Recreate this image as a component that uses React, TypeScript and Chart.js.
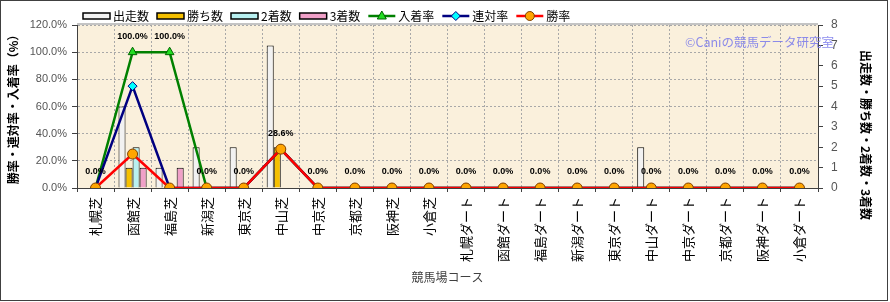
import React, { useEffect, useRef } from 'react';
import { Chart, registerables } from 'chart.js';

Chart.register(...registerables);

const categories = [
  '札幌芝', '函館芝', '福島芝', '新潟芝', '東京芝', '中山芝', '中京芝', '京都芝', '阪神芝', '小倉芝',
  '札幌ダート', '函館ダート', '福島ダート', '新潟ダート', '東京ダート', '中山ダート', '中京ダート', '京都ダート', '阪神ダート', '小倉ダート',
];
const starts = [0, 4, 1, 2, 2, 7, 0, 0, 0, 0, 0, 0, 0, 0, 0, 2, 0, 0, 0, 0];
const wins = [0, 1, 0, 0, 0, 2, 0, 0, 0, 0, 0, 0, 0, 0, 0, 0, 0, 0, 0, 0];
const seconds = [0, 2, 0, 0, 0, 0, 0, 0, 0, 0, 0, 0, 0, 0, 0, 0, 0, 0, 0, 0];
const thirds = [0, 1, 1, 0, 0, 0, 0, 0, 0, 0, 0, 0, 0, 0, 0, 0, 0, 0, 0, 0];
const placeRate = [0, 100, 100, 0, 0, 28.6, 0, 0, 0, 0, 0, 0, 0, 0, 0, 0, 0, 0, 0, 0];
const quinellaRate = [0, 75, 0, 0, 0, 28.6, 0, 0, 0, 0, 0, 0, 0, 0, 0, 0, 0, 0, 0, 0];
const winRate = [0, 25, 0, 0, 0, 28.6, 0, 0, 0, 0, 0, 0, 0, 0, 0, 0, 0, 0, 0, 0];

const leftTitle = '勝率・連対率・入着率（%）';
const rightTitle = '出走数・勝ち数・2着数・3着数';
const xTitle = '競馬場コース';
const watermark = '©Caniの競馬データ研究室';

const JP = '"Noto Sans CJK JP", "Noto Sans", sans-serif';
const NUM = '"Liberation Sans", Arial, sans-serif';

type Legend = { label: string; kind: 'bar' | 'line'; fill: string; stroke: string; marker?: string; mfill?: string; mstroke?: string };

const legendItems: Legend[] = [
  { label: '出走数', kind: 'bar', fill: '#F2F2F2', stroke: '#000' },
  { label: '勝ち数', kind: 'bar', fill: '#F5C000', stroke: '#000' },
  { label: '2着数', kind: 'bar', fill: '#B8F0F0', stroke: '#000' },
  { label: '3着数', kind: 'bar', fill: '#F0A0C8', stroke: '#000' },
  { label: '入着率', kind: 'line', fill: '', stroke: '#008000', marker: 'triangle', mfill: '#22DD22', mstroke: '#006400' },
  { label: '連対率', kind: 'line', fill: '', stroke: '#000080', marker: 'diamond', mfill: '#00FFFF', mstroke: '#000080' },
  { label: '勝率', kind: 'line', fill: '', stroke: '#FF0000', marker: 'circle', mfill: '#FFA500', mstroke: '#804000' },
];

function drawMarker(ctx: CanvasRenderingContext2D, kind: string, cx: number, cy: number, fill: string, stroke: string) {
  ctx.beginPath();
  if (kind === 'triangle') {
    const r = 5;
    ctx.moveTo(cx, cy - r);
    ctx.lineTo(cx + r * 0.9, cy + r * 0.6);
    ctx.lineTo(cx - r * 0.9, cy + r * 0.6);
    ctx.closePath();
  } else if (kind === 'diamond') {
    const r = 4.5;
    ctx.moveTo(cx, cy - r);
    ctx.lineTo(cx + r, cy);
    ctx.lineTo(cx, cy + r);
    ctx.lineTo(cx - r, cy);
    ctx.closePath();
  } else {
    ctx.arc(cx, cy, 4.5, 0, Math.PI * 2);
  }
  ctx.fillStyle = fill;
  ctx.fill();
  ctx.lineWidth = 1;
  ctx.strokeStyle = stroke;
  ctx.stroke();
}

const decor = {
  id: 'decor',
  beforeDraw(chart: any) {
    const { ctx, chartArea: a } = chart;
    ctx.save();
    ctx.fillStyle = '#FFFFFF';
    ctx.fillRect(0, 0, chart.width, chart.height);
    ctx.fillStyle = '#FAF0DC';
    ctx.fillRect(a.left, a.top, a.right - a.left, a.bottom - a.top);
    ctx.restore();
  },
  afterDatasetsDraw(chart: any) {
    const { ctx } = chart;
    const meta = chart.getDatasetMeta(4);
    ctx.save();
    ctx.font = `bold 9px ${NUM}`;
    ctx.fillStyle = '#000';
    ctx.textAlign = 'center';
    ctx.textBaseline = 'middle';
    meta.data.forEach((pt: any, i: number) => {
      ctx.fillText(placeRate[i].toFixed(1) + '%', pt.x, pt.y - 16);
    });
    ctx.restore();
  },
  afterDraw(chart: any) {
    const { ctx, chartArea: a } = chart;
    ctx.save();
    ctx.strokeStyle = '#C4C4C4';
    ctx.lineWidth = 2;
    ctx.beginPath();
    ctx.moveTo(a.left, a.top - 1);
    ctx.lineTo(a.right, a.top - 1);
    ctx.stroke();

    ctx.font = `12.5px ${JP}`;
    ctx.fillStyle = 'rgba(120,120,235,0.85)';
    ctx.textAlign = 'left';
    ctx.textBaseline = 'middle';
    ctx.fillText(watermark, 685, 42);

    ctx.fillStyle = '#000';
    ctx.font = `bold 12px ${JP}`;
    ctx.textAlign = 'center';
    ctx.save();
    ctx.translate(13, (a.top + a.bottom) / 2);
    ctx.rotate(-Math.PI / 2);
    ctx.fillText(leftTitle, 0, 0);
    ctx.restore();

    ctx.save();
    ctx.translate(866, 135);
    ctx.rotate(Math.PI / 2);
    ctx.fillText(rightTitle, 0, 0);
    ctx.restore();

    ctx.font = `12px ${JP}`;
    ctx.fillStyle = '#404040';
    ctx.fillText(xTitle, (a.left + a.right) / 2, 277);

    ctx.font = `12px ${JP}`;
    let x = 83;
    const cy = 16;
    legendItems.forEach((it) => {
      if (it.kind === 'bar') {
        ctx.fillStyle = it.fill;
        ctx.fillRect(x, cy - 3, 27, 6);
        ctx.strokeStyle = it.stroke;
        ctx.lineWidth = 1.5;
        ctx.strokeRect(x, cy - 3, 27, 6);
      } else {
        ctx.strokeStyle = it.stroke;
        ctx.lineWidth = 2.5;
        ctx.beginPath();
        ctx.moveTo(x, cy);
        ctx.lineTo(x + 27, cy);
        ctx.stroke();
        drawMarker(ctx, it.marker!, x + 13.5, cy, it.mfill!, it.mstroke!);
      }
      ctx.fillStyle = '#000';
      ctx.textAlign = 'left';
      ctx.textBaseline = 'middle';
      ctx.fillText(it.label, x + 30, cy);
      x += 30 + ctx.measureText(it.label).width + 8;
    });

    ctx.strokeStyle = '#404040';
    ctx.lineWidth = 1;
    ctx.strokeRect(0.5, 0.5, 887, 300);
    ctx.restore();
  },
};

export default function App() {
  const ref = useRef<HTMLCanvasElement>(null);
  useEffect(() => {
    document.body.style.margin = '0';
    const canvas = ref.current!;
    const lineDs = (label: string, data: number[], color: string, style: string, radius: number, fill: string, stroke: string, order: number) => ({
      type: 'line' as const,
      label,
      data,
      yAxisID: 'y',
      borderColor: color,
      borderWidth: 2.5,
      pointStyle: style,
      pointRadius: radius,
      pointBackgroundColor: fill,
      pointBorderColor: stroke,
      pointBorderWidth: 1,
      tension: 0,
      order,
    });
    const barDs = (label: string, data: number[], fill: string) => ({
      type: 'bar' as const,
      label,
      data,
      yAxisID: 'y2',
      backgroundColor: fill,
      borderColor: '#000',
      borderWidth: 1,
      categoryPercentage: 0.76,
      barPercentage: 1,
      order: 10,
    });
    const chart = new Chart(canvas, {
      type: 'bar',
      data: {
        labels: categories,
        datasets: [
          barDs('出走数', starts, '#F2F2F2'),
          barDs('勝ち数', wins, '#F5C000'),
          barDs('2着数', seconds, '#B8F0F0'),
          barDs('3着数', thirds, '#F0A0C8'),
          lineDs('入着率', placeRate, '#008000', 'triangle', 5, '#22DD22', '#006400', 3),
          lineDs('連対率', quinellaRate, '#000080', 'rectRot', 4.5, '#00FFFF', '#000080', 2),
          lineDs('勝率', winRate, '#FF0000', 'circle', 5, '#FFA500', '#804000', 1),
        ] as any,
      },
      options: {
        responsive: false,
        animation: false,
        devicePixelRatio: 1,
        layout: { padding: { top: 25, left: 0, right: 0, bottom: 0 } },
        plugins: {
          legend: { display: false },
          tooltip: { enabled: false },
        },
        scales: {
          x: {
            offset: true,
            grid: { offset: true, color: '#A8A8A8', lineWidth: 1, tickLength: 4, tickColor: '#404040' },
            border: { color: '#404040', width: 1, dash: [2, 2] },
            ticks: {
              font: { family: JP, size: 13 },
              color: '#000',
              minRotation: 90,
              maxRotation: 90,
              autoSkip: false,
              padding: 5,
            },
            afterFit: (s: any) => { s.height = 114; },
          },
          y: {
            position: 'left',
            min: 0,
            max: 120,
            ticks: {
              stepSize: 20,
              callback: (v: any) => Number(v).toFixed(1) + '%',
              color: '#555',
              font: { family: NUM, size: 11 },
              padding: 5,
            },
            grid: { color: '#A8A8A8', lineWidth: 1, tickLength: 5, tickColor: '#404040' },
            border: { color: '#404040', width: 1, dash: [2, 2] },
            afterFit: (s: any) => { s.width = 77; },
          },
          y2: {
            position: 'right',
            min: 0,
            max: 8,
            ticks: {
              stepSize: 1,
              color: '#555',
              font: { family: NUM, size: 12 },
              padding: 8,
            },
            grid: { drawOnChartArea: false, tickLength: 5, tickColor: '#404040' },
            border: { color: '#404040', width: 1 },
            afterFit: (s: any) => { s.width = 72; },
          },
        },
      } as any,
      plugins: [decor],
    });
    return () => chart.destroy();
  }, []);
  return <canvas ref={ref} width={890} height={302} style={{ display: 'block', width: 890, height: 302 }} />;
}
